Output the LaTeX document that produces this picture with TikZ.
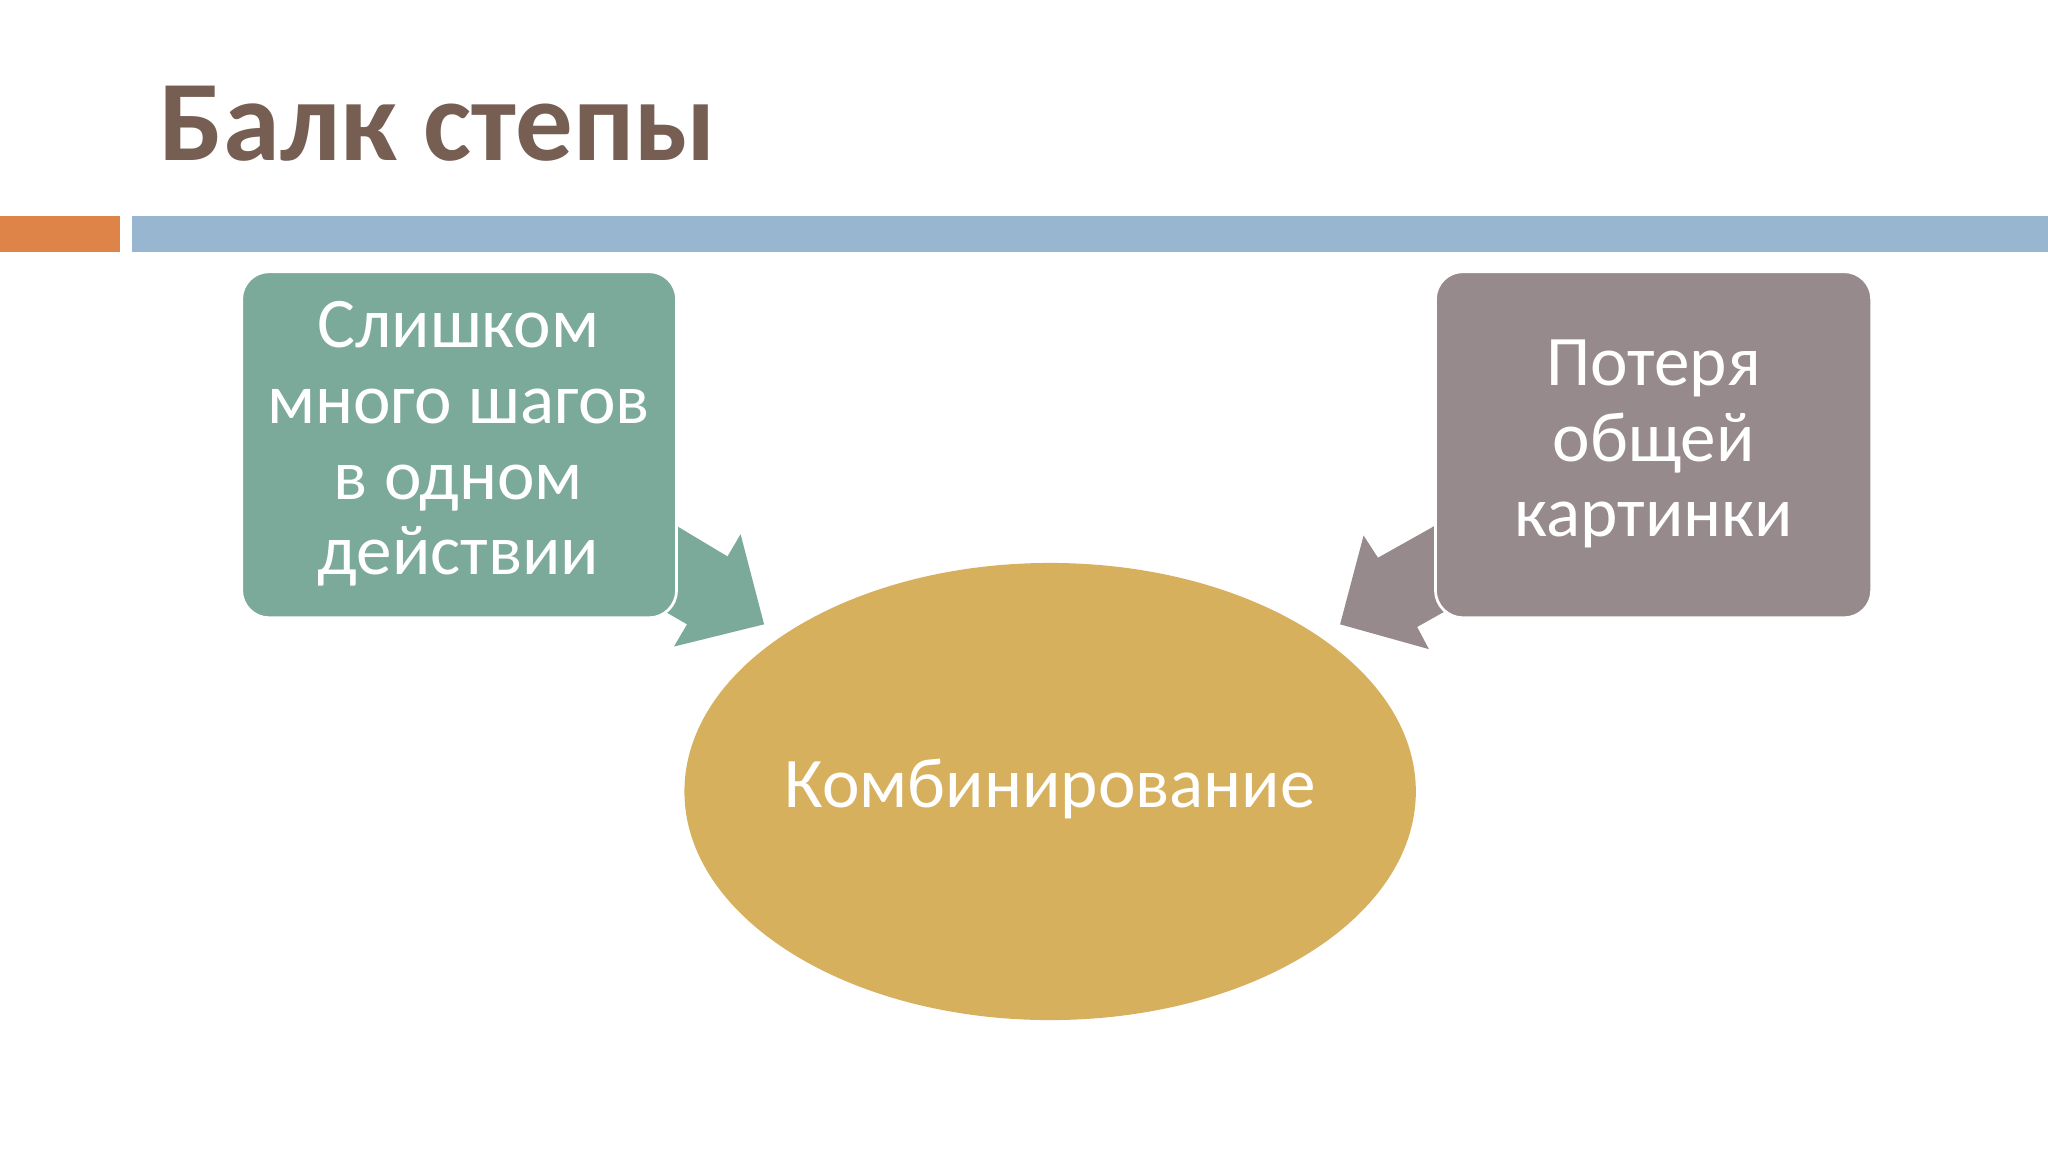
\documentclass[tikz,border=0pt]{standalone}
\usepackage{fontspec}
\setmainfont{Carlito}
\usetikzlibrary{shapes.geometric}
\definecolor{tgreen}{HTML}{7BA99A}
\definecolor{tgray}{HTML}{968A8C}
\definecolor{tgold}{HTML}{D7B05E}
\definecolor{ttitle}{HTML}{765E53}
\definecolor{torange}{HTML}{DE8449}
\definecolor{tblue}{HTML}{98B6D0}
\tikzset{
  box/.style={rounded corners=12pt, draw=white, line width=1.2pt, text=white, font=\fontsize{31}{33}\selectfont, align=center, inner sep=0pt},
}
\begin{document}
\begin{tikzpicture}[x=0.02cm,y=-0.02cm]
\useasboundingbox (0,0) rectangle (1568,882);
\fill[white] (0,0) rectangle (1568,882);
\node[anchor=base west, text=ttitle, font=\fontsize{50}{55}\bfseries\selectfont, inner sep=0pt] (title) at (122,123) {Балк степы};
\fill[torange] (0,165) rectangle (92,193);
\fill[tblue] (101,165) rectangle (1568,193);
% arrows
\fill[tgreen] (505,395) -- (522,405) -- (557,426) -- (567,409) -- (585,478) -- (516,495) -- (526,478) -- (500,463) -- cycle;
\fill[tgray] (1110,395) -- (1096,404) -- (1055,427) -- (1044,410) -- (1026,478) -- (1094,497) -- (1085,480) -- (1110,466) -- cycle;
% boxes
\filldraw[box, fill=tgreen] (185,208) rectangle (518,473);
\node[box, draw=none] (left) at (351,340) {Слишком\\много шагов\\в одном\\действии};
\filldraw[box, fill=tgray] (1099,208) rectangle (1433,473);
\node[box, draw=none] (right) at (1266,340) {Потеря\\общей\\картинки};
% ellipse
\fill[tgold] (804,606) ellipse [x radius=280, y radius=175];
\node[text=white, font=\fontsize{31}{33}\selectfont] (comb) at (804,604) {Комбинирование};
\end{tikzpicture}
\end{document}
